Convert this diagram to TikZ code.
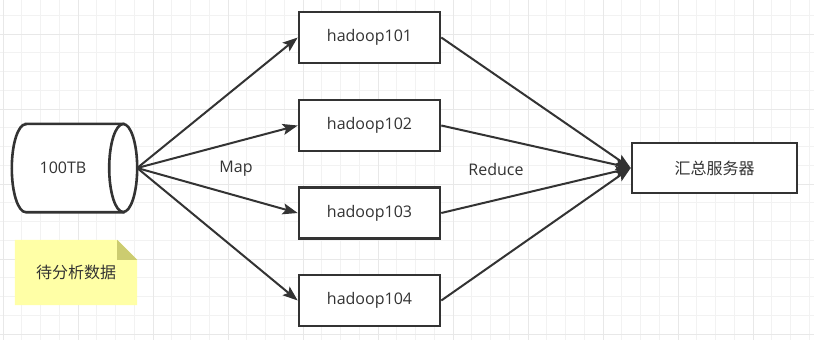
\documentclass[tikz,border=0pt]{standalone}
\usepackage{fontspec}
\setmainfont{Open Sans}
\newfontfamily\cjk{Noto Sans CJK SC}
\usetikzlibrary{shapes.geometric, arrows.meta, positioning, backgrounds}

\definecolor{ink}{HTML}{333333}
\definecolor{notefill}{HTML}{FFFFA6}
\definecolor{notefold}{HTML}{CCCC70}

\begin{document}
\begin{tikzpicture}[
    x=1pt, y=-1pt,
    font=\fontsize{16}{19}\selectfont,
    text=ink,
    minorgrid/.style={draw=black!5, line width=1pt},
    majorgrid/.style={draw=black!9, line width=1pt},
    hostbox/.style={
        rectangle,
        draw=ink,
        fill=white,
        line width=2.6pt,
        minimum width=141pt,
        minimum height=51pt,
        inner sep=0pt
    },
    drum/.style={
        draw=ink,
        fill=white,
        line width=2.6pt
    },
    notetext/.style={
        minimum width=122pt,
        minimum height=65pt,
        inner sep=0pt
    },
    tag/.style={inner sep=1pt},
    arrow/.style={
        -{Stealth[length=15pt, width=11pt, inset=3pt]},
        line width=2pt,
        ink
    }
]
    \useasboundingbox (0,0) rectangle (814,340);

    % grid
    \begin{scope}[on background layer]
        \fill[white] (0,0) rectangle (814,340);
        \foreach \i in {0,...,43}
            \draw[minorgrid] ({3+18.75*\i},0) -- ({3+18.75*\i},340);
        \foreach \i in {0,...,18}
            \draw[minorgrid] (0,{-3.5+18.75*\i}) -- (814,{-3.5+18.75*\i});
        \foreach \i in {0,...,10}
            \draw[majorgrid] ({3+75*\i},0) -- ({3+75*\i},340);
        \foreach \i in {0,...,4}
            \draw[majorgrid] (0,{34+75*\i}) -- (814,{34+75*\i});
    \end{scope}

    % data store, lying on its side
    \node[minimum width=125pt, minimum height=88pt, inner sep=0pt] (data) at (74.5,168) {};
    \filldraw[drum] ([xshift=14pt]data.north west) -- ([xshift=-14pt]data.north east)
        -- ([xshift=-14pt]data.south east) -- ([xshift=14pt]data.south west)
        arc[start angle=90, end angle=270, x radius=14, y radius=44] -- cycle;
    \filldraw[drum] ([xshift=-14pt]data.east) ellipse[x radius=14, y radius=44];
    \node (datatext) at ([xshift=-11.5pt]data.center) {100TB};

    \node[hostbox] (h101) at (369.5,37.5) {hadoop101};
    \node[hostbox] (h102) at (369.5,125.5) {hadoop102};
    \node[hostbox] (h103) at (369.5,213) {hadoop103};
    \node[hostbox] (h104) at (369.5,300.5) {hadoop104};

    \node[hostbox, minimum width=165pt, minimum height=50pt] (server) at (714.5,168) {\cjk 汇总服务器};

    \node[tag] (map) at (236,169) {Map};
    \node[tag] (reduce) at (496,169) {Reduce};

    % sticky note
    \node[notetext] (note) at (76,272.5) {\cjk 待分析数据};
    \begin{scope}[on background layer]
        \fill[notefill] (note.south west) -- (note.north west)
            -- ([xshift=-20pt]note.north east) -- ([yshift=-20pt]note.north east)
            -- (note.south east) -- cycle;
        \fill[notefold] ([xshift=-20pt]note.north east)
            -- ([xshift=-20pt,yshift=-20pt]note.north east)
            -- ([yshift=-20pt]note.north east) -- cycle;
    \end{scope}

    \draw[arrow] (data.east) -- (h101.west);
    \draw[arrow] (data.east) -- (h102.west);
    \draw[arrow] (data.east) -- (h103.west);
    \draw[arrow] (data.east) -- (h104.west);

    \draw[arrow] (h101.east) -- (server.west);
    \draw[arrow] (h102.east) -- (server.west);
    \draw[arrow] (h103.east) -- (server.west);
    \draw[arrow] (h104.east) -- (server.west);
\end{tikzpicture}
\end{document}
